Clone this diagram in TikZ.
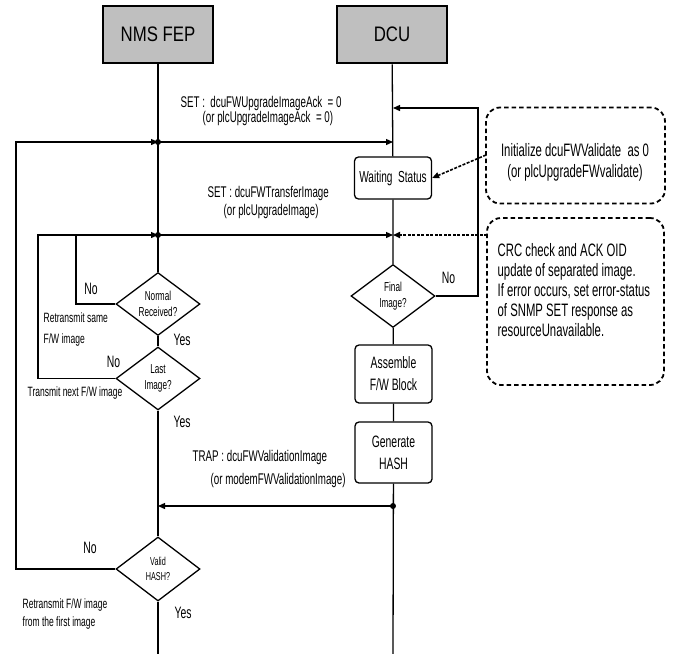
\documentclass[tikz,border=0pt]{standalone}
\usepackage{fontspec}
\setmainfont{Liberation Sans}
\newfontfamily\condf[FakeStretch=0.63]{Liberation Sans}
\newfontfamily\hdrf[FakeStretch=0.8]{Liberation Sans}
\usetikzlibrary{shapes.geometric,arrows.meta}
\begin{document}
\begin{tikzpicture}[x=1pt,y=-1pt,
  line width=1.3pt,
  hdr/.style={draw,line width=2.8pt,fill=black!25,minimum width=110pt,minimum height=57pt,inner sep=0pt,font=\hdrf\fontsize{21}{24}\selectfont},
  proc/.style={draw,fill=white,rounded corners=4pt,inner sep=0pt,align=center,minimum width=77pt,font=\condf\fontsize{16.5}{22}\selectfont},
  dec/.style={draw,fill=white,diamond,inner sep=0pt,minimum width=84pt,minimum height=63pt,shape aspect=1.33,align=center,font=\condf\fontsize{13}{16}\selectfont},
  note/.style={draw,dashed,dash pattern=on 4.5pt off 3pt,line width=1.8pt,rounded corners=14pt,inner sep=0pt},
  msg/.style={font=\condf\fontsize{15.5}{17}\selectfont,anchor=west,inner sep=0pt},
  lbl/.style={font=\condf\fontsize{16.5}{18}\selectfont,inner sep=0pt},
  sml/.style={font=\condf\fontsize{13.5}{15}\selectfont,anchor=west,inner sep=0pt},
  arr/.style={-{Triangle[length=7pt,width=6pt]}},
  dot/.style={circle,fill=black,inner sep=0pt,minimum size=6pt},
]
\useasboundingbox (0,0) rectangle (673,654);
% headers
\node[hdr] (nms) at (158,34.5) {NMS FEP};
\node[hdr] (dcu) at (392,34.5) {DCU};
\coordinate (nmsend) at (158,654);
\coordinate (dcuend) at (393,654);
% DCU side
\node[proc,minimum height=42pt,font=\condf\fontsize{16}{18}\selectfont] (wait) at (393,178) {Waiting\ \ Status};
\node[dec] (final) at (393,296) {Final\\Image?};
\node[proc,minimum height=58pt] (asm) at (393.5,374) {Assemble\\F/W Block};
\node[proc,minimum height=61pt] (gen) at (393.5,452.5) {Generate\\HASH};
% NMS side
\node[dec] (normal) at (158,304) {Normal\\Received?};
\node[dec] (last) at (158,378.5) {Last\\Image?};
\node[dec,font=\condf\fontsize{11.5}{15}\selectfont,minimum height=64pt] (valid) at (158,569) {Valid\\HASH?};
% lifelines
\draw (nms) -- (normal) -- (last) -- (valid) -- (nmsend);
\draw (dcu) -- (wait) -- (final) -- (asm) -- (gen) -- (dcuend);
% junction coordinates
\coordinate (j1) at (158,142);
\coordinate (j1d) at (393,142);
\coordinate (j2) at (158,235);
\coordinate (j2d) at (393,235);
\coordinate (j3) at (393,506);
\coordinate (j3n) at (158,506);
\coordinate (rl) at (478,108);
\coordinate (rd) at (393,108);
\coordinate (lx1) at (16,142);
\coordinate (lx2) at (38,235);
\coordinate (lx3) at (76,235);
% message 1
\node[dot] (d1) at (j1) {};
\draw[arr] (valid.west) -| (lx1) -- (j1);
\draw[arr] (j1) -- (j1d);
\node[msg] (m1a) at (180,103) {SET :\ \ dcuFWUpgradeImageAck\ \ = 0};
\node[msg] (m1b) at (202,118) {(or plcUpgradeImageAck\ \ = 0)};
% message 2
\node[dot] (d2) at (j2) {};
\draw[arr] (last.west) -| (lx2) -- (j2);
\draw (normal.west) -| (lx3);
\draw[arr] (j2) -- (j2d);
\node[msg] (m2a) at (207,193) {SET : dcuFWTransferImage};
\node[msg] (m2b) at (223,211) {(or plcUpgradeImage)};
% right loop
\draw[arr] (final.east) -| (rl) -- (rd);
% trap
\node[dot] (d3) at (j3) {};
\draw[arr] (j3) -- (j3n);
\node[msg] (m3a) at (192,457) {TRAP : dcuFWValidationImage};
\node[msg] (m3b) at (210,480) {(or modemFWValidationImage)};
% notes
\node[note,minimum width=179pt,minimum height=96pt] (n1) at (575.5,155.5) {};
\node[font=\condf\fontsize{18}{21}\selectfont,align=center,inner sep=0pt] (n1t) at (575,162.5) {Initialize\ dcuFWValidate\ \ as 0\\(or plcUpgradeFWvalidate)};
\node[note,minimum width=177pt,minimum height=167pt] (n2) at (575.5,301.5) {};
\node[font=\condf\fontsize{18}{20}\selectfont,align=left,anchor=north west,inner sep=0pt] (n2t) at (497,243) {CRC check and ACK OID\\update of separated image.\\If error occurs, set error-status\\of SNMP SET response as\\resourceUnavailable.};
\draw[arr,dashed,dash pattern=on 3pt off 1.5pt,line width=1.6pt] (486,155) -- (wait.east);
\draw[arr,dashed,dash pattern=on 3pt off 1.5pt,line width=1.6pt] (487,235) -- (j2d);
% labels
\node[lbl] (no1) at (91,289) {No};
\node[sml] (r1) at (43,318) {Retransmit same};
\node[sml] (r2) at (43,340) {F/W image};
\node[lbl,anchor=west] (y1) at (173,340) {Yes};
\node[lbl] (no2) at (113.5,362) {No};
\node[sml] (t1) at (27,393) {Transmit next F/W image};
\node[lbl,anchor=west] (y2) at (173,422) {Yes};
\node[lbl] (no3) at (448.5,278) {No};
\node[lbl] (no4) at (90,548) {No};
\node[lbl,anchor=west] (y4) at (174,613) {Yes};
\node[sml] (r3) at (22,605) {Retransmit F/W image};
\node[sml] (r4) at (22,623) {from the first image};
\end{tikzpicture}
\end{document}
